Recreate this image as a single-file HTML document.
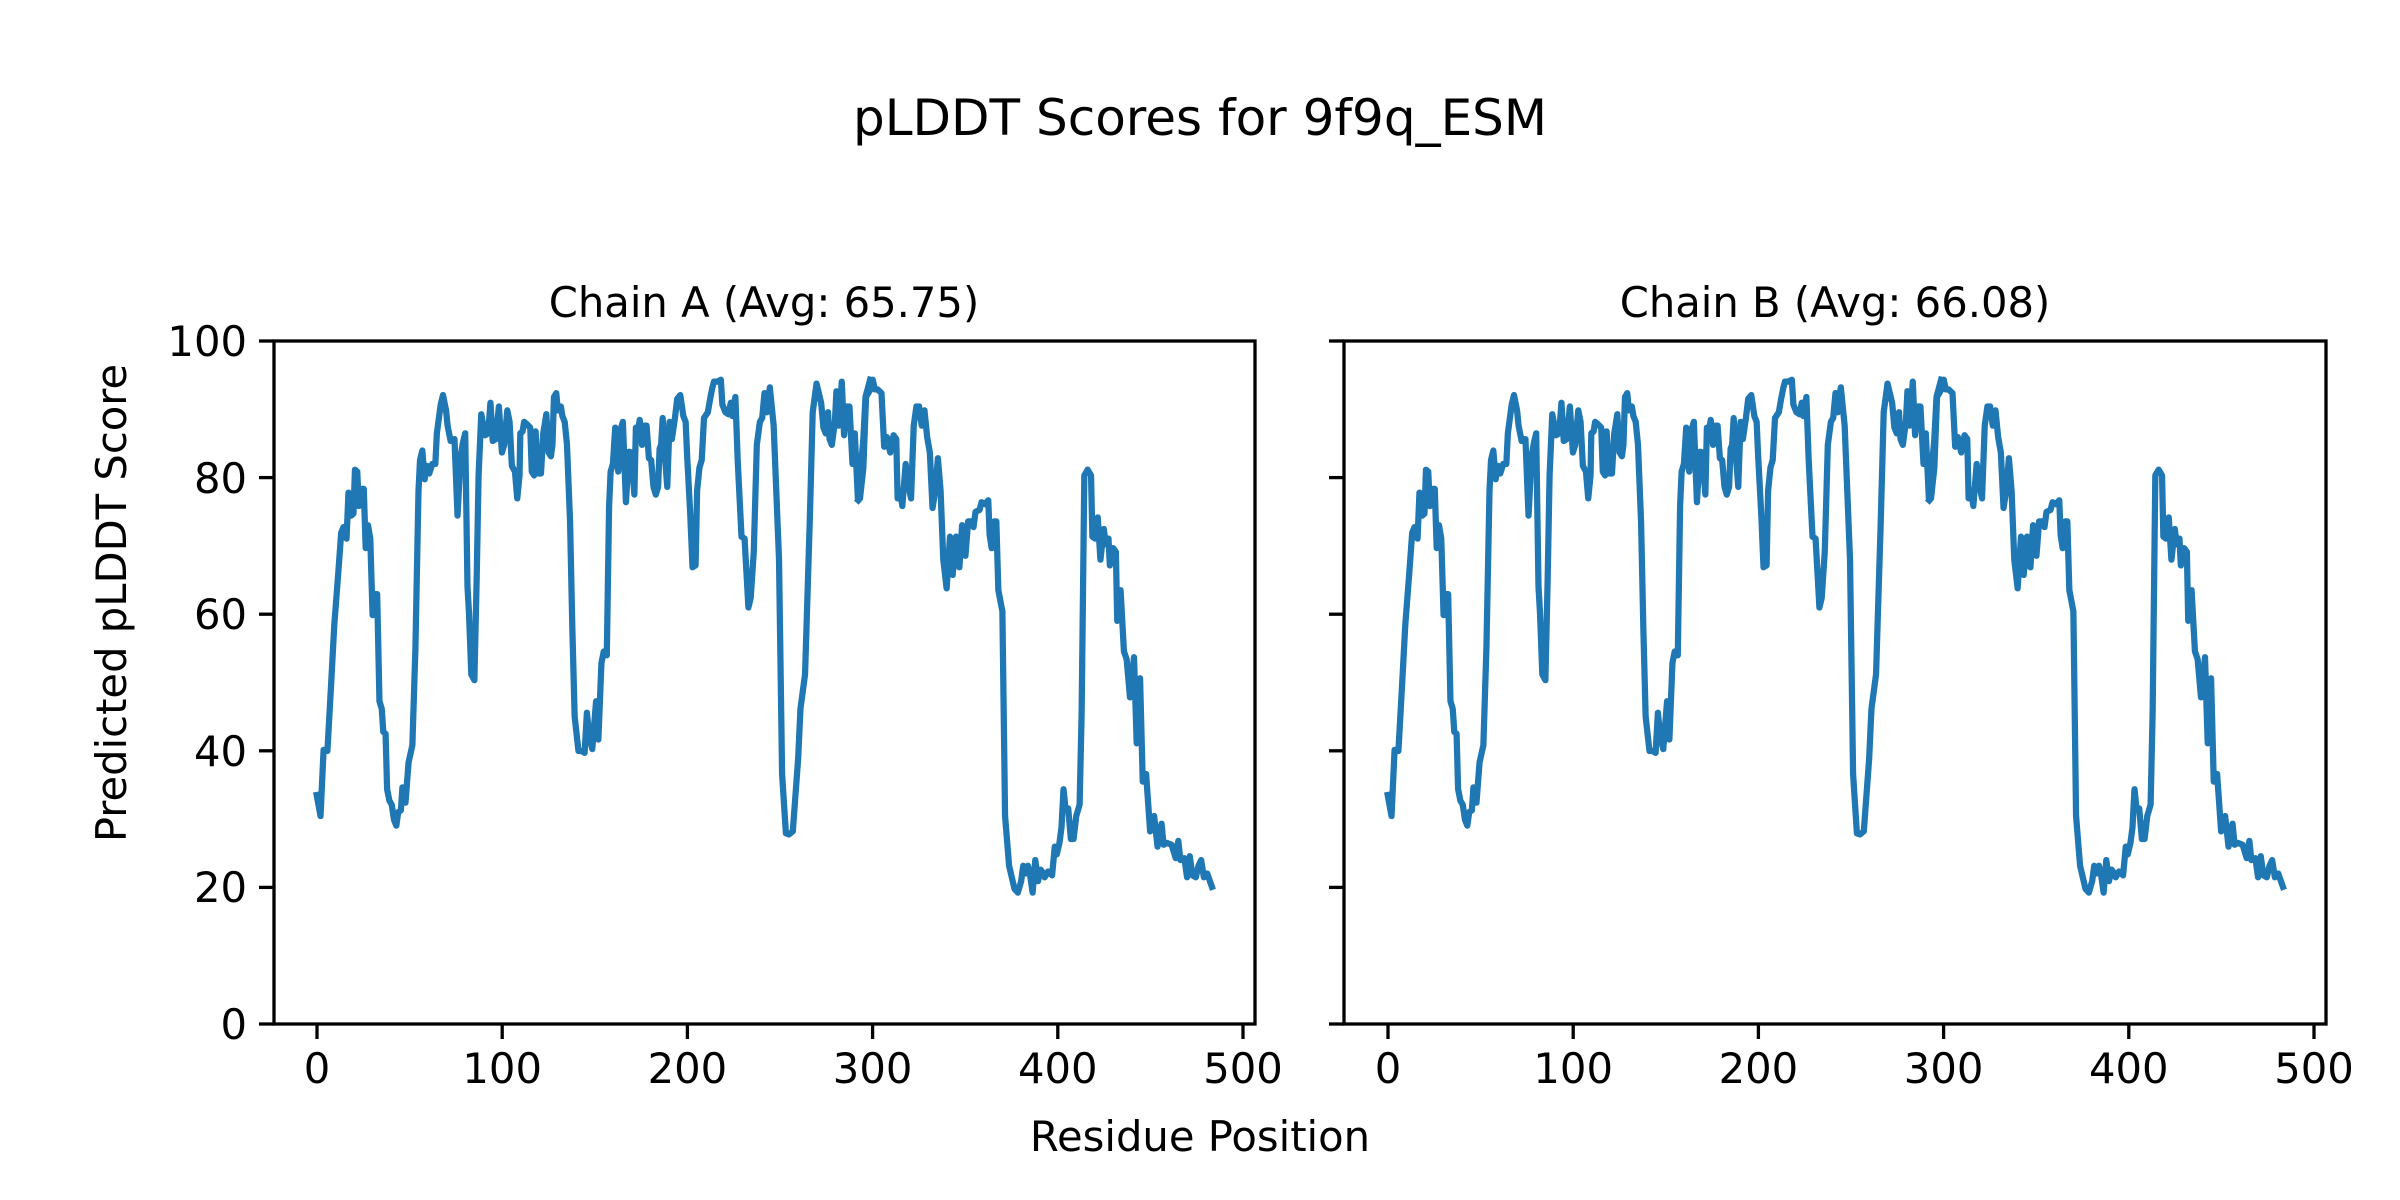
<!DOCTYPE html>
<html><head><meta charset="utf-8"><style>html,body{margin:0;padding:0;background:#fff}svg{display:block}</style></head>
<body>
<svg width="2400" height="1200" viewBox="0 0 2400 1200" xmlns="http://www.w3.org/2000/svg" font-family="DejaVu Sans, Liberation Sans, sans-serif">
<rect width="2400" height="1200" fill="#fff"/>
<text x="1200" y="135" font-size="50" text-anchor="middle">pLDDT Scores for 9f9q_ESM</text>
<text x="764" y="317" font-size="41.7" text-anchor="middle">Chain A (Avg: 65.75)</text>
<text x="1835" y="317" font-size="41.7" text-anchor="middle">Chain B (Avg: 66.08)</text>
<text x="1200" y="1151" font-size="41.7" text-anchor="middle">Residue Position</text>
<text transform="translate(126,603) rotate(-90)" font-size="41.7" text-anchor="middle">Predicted pLDDT Score</text>

<defs>
<g id="series">
<g transform="translate(270,330) scale(0.38272)">
<polyline fill="none" stroke="#1f77b4" stroke-width="6.25" vector-effect="non-scaling-stroke" stroke-linejoin="round" stroke-linecap="square" points="122,1215 132,1270 140,1097 150,1100 160,920 168,770 178,640 186,530 192,515 200,545 205,425 212,485 218,480 222,365 228,370 232,460 236,420 240,415 245,415 250,570 256,510 262,545 268,745 274,690 280,690 286,970 292,990 296,1050 302,1055 306,1200 312,1230 318,1240 324,1280 330,1295 335,1260 342,1255 346,1195 354,1235 362,1130 372,1085 380,830 388,420 392,340 398,315 404,390 410,355 416,375 424,350 432,350 436,270 446,195 452,170 460,210 464,250 472,290 482,285 490,485 498,330 504,295 510,270 516,670 520,740 526,900 534,915 540,650 545,380 552,220 562,275 570,270 576,190 582,290 590,285 598,200 606,320 612,300 620,210 626,240 632,355 640,370 646,440 652,380 654,270 660,265 664,240 670,245 680,255 684,370 690,380 694,265 700,375 708,375 714,270 722,220 728,320 734,330 738,300 742,175 748,165 752,210 760,200 764,225 770,240 776,300 784,500 790,780 796,1010 806,1100 814,1100 822,1105 828,1000 834,1060 842,1095 852,970 858,1070 866,870 872,840 880,850 886,460 890,370 896,350 902,255 910,370 916,260 922,240 930,450 938,318 944,320 952,430 956,255 962,260 966,235 972,300 978,250 984,250 990,335 996,340 1002,410 1008,430 1014,410 1018,310 1022,300 1026,230 1032,330 1038,410 1044,240 1050,285 1058,230 1064,180 1072,170 1080,225 1086,240 1090,330 1098,480 1104,620 1112,615 1116,420 1122,360 1128,340 1134,230 1144,215 1150,180 1156,150 1160,135 1168,135 1178,130 1182,195 1190,215 1198,220 1204,190 1208,225 1216,175 1222,340 1232,540 1240,545 1250,725 1256,700 1264,580 1272,300 1280,240 1286,230 1292,165 1298,215 1306,150 1316,250 1330,600 1338,1160 1348,1315 1356,1318 1366,1310 1380,1120 1386,990 1398,900 1410,510 1418,215 1428,140 1440,190 1446,255 1452,270 1458,215 1462,285 1468,300 1476,240 1480,160 1486,250 1494,135 1500,275 1506,200 1514,200 1522,350 1528,270 1536,440 1550,290 1556,175 1568,130"/>
</g>
<g transform="translate(860,330) scale(0.3358,0.38272)">
<polyline fill="none" stroke="#1f77b4" stroke-width="6.25" vector-effect="non-scaling-stroke" stroke-linejoin="round" stroke-linecap="square" points="-5,445 0,440 10,360 18,175 28,160 38,130 44,155 52,155 64,165 72,305 80,280 90,320 100,275 108,285 112,440 120,420 126,460 136,350 144,405 152,440 160,250 168,200 176,200 184,250 192,210 200,280 208,320 216,465 224,420 232,335 240,420 248,600 258,675 268,540 276,640 286,540 296,620 304,510 314,590 322,500 332,500 338,515 344,475 356,470 362,450 372,455 382,445 386,535 392,570 400,500 406,500 412,680 424,735 432,1270 444,1400 460,1460 470,1470 480,1440 486,1400 494,1420 500,1400 506,1420 514,1470 522,1385 530,1440 538,1410 546,1420 550,1430 560,1415 572,1425 580,1350 586,1370 594,1340 600,1300 606,1200 612,1250 620,1250 628,1330 636,1330 644,1270 654,1240 660,1000 668,380 678,365 688,380 692,540 700,545 708,490 716,600 726,520 732,560 740,545 744,615 754,570 762,580 766,760 776,680 786,840 794,860 804,960 816,855 824,1080 834,910 842,1180 852,1160 864,1310 876,1270 886,1350 898,1290 904,1345 914,1340 928,1345 940,1380 948,1335 954,1385 966,1380 974,1430 982,1375 990,1425 1000,1430 1008,1400 1016,1385 1024,1430 1034,1420 1048,1455"/>
</g>
</g>
</defs>

<use href="#series"/>
<use href="#series" transform="translate(1071,0)"/>

<g stroke="#000" stroke-width="3.3" fill="none" stroke-linecap="square">
<rect x="274" y="341" width="981" height="683"/>
<rect x="1344" y="341" width="982" height="683"/>
</g>
<g stroke="#000" stroke-width="3.3">
<line x1="259" y1="1024" x2="274" y2="1024"/>
<line x1="259" y1="887.4" x2="274" y2="887.4"/>
<line x1="259" y1="750.8" x2="274" y2="750.8"/>
<line x1="259" y1="614.2" x2="274" y2="614.2"/>
<line x1="259" y1="477.6" x2="274" y2="477.6"/>
<line x1="259" y1="341" x2="274" y2="341"/>
<line x1="1329" y1="1024" x2="1344" y2="1024"/>
<line x1="1329" y1="887.4" x2="1344" y2="887.4"/>
<line x1="1329" y1="750.8" x2="1344" y2="750.8"/>
<line x1="1329" y1="614.2" x2="1344" y2="614.2"/>
<line x1="1329" y1="477.6" x2="1344" y2="477.6"/>
<line x1="1329" y1="341" x2="1344" y2="341"/>
<line x1="317" y1="1024" x2="317" y2="1039"/>
<line x1="502.2" y1="1024" x2="502.2" y2="1039"/>
<line x1="687.4" y1="1024" x2="687.4" y2="1039"/>
<line x1="872.6" y1="1024" x2="872.6" y2="1039"/>
<line x1="1057.8" y1="1024" x2="1057.8" y2="1039"/>
<line x1="1243" y1="1024" x2="1243" y2="1039"/>
<line x1="1388" y1="1024" x2="1388" y2="1039"/>
<line x1="1573.2" y1="1024" x2="1573.2" y2="1039"/>
<line x1="1758.4" y1="1024" x2="1758.4" y2="1039"/>
<line x1="1943.6" y1="1024" x2="1943.6" y2="1039"/>
<line x1="2128.8" y1="1024" x2="2128.8" y2="1039"/>
<line x1="2314" y1="1024" x2="2314" y2="1039"/>
</g>
<g font-size="41.7" text-anchor="end">
<text x="247" y="1039">0</text>
<text x="247" y="902">20</text>
<text x="247" y="766">40</text>
<text x="247" y="629">60</text>
<text x="247" y="493">80</text>
<text x="247" y="356">100</text>
</g>
<g font-size="41.7" text-anchor="middle">
<text x="317" y="1083">0</text>
<text x="502.2" y="1083">100</text>
<text x="687.4" y="1083">200</text>
<text x="872.6" y="1083">300</text>
<text x="1057.8" y="1083">400</text>
<text x="1243" y="1083">500</text>
<text x="1388" y="1083">0</text>
<text x="1573.2" y="1083">100</text>
<text x="1758.4" y="1083">200</text>
<text x="1943.6" y="1083">300</text>
<text x="2128.8" y="1083">400</text>
<text x="2314" y="1083">500</text>
</g>
</svg>
</body></html>
